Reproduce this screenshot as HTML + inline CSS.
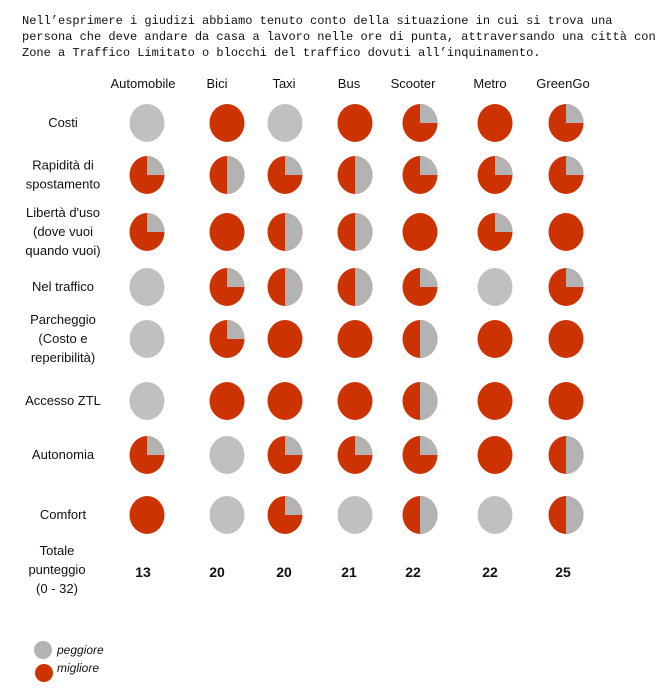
<!DOCTYPE html>
<html><head><meta charset="utf-8">
<style>
body{margin:0;background:#fff;width:663px;height:691px;overflow:hidden;}
svg{display:block}
.intro{font-family:"Liberation Mono",monospace;font-size:12px;fill:#111}
.hdr{font-family:"Liberation Sans",sans-serif;font-size:13px;fill:#111}
.lbl{font-family:"Liberation Sans",sans-serif;font-size:13px;fill:#111}
.tot{font-family:"Liberation Sans",sans-serif;font-size:14px;font-weight:bold;fill:#111}
.leg{font-family:"Liberation Sans",sans-serif;font-size:12px;font-style:italic;fill:#111}
</style></head>
<body>
<svg id="chart" width="663" height="691">
<text class="intro">
<tspan x="22" y="24">Nell’esprimere i giudizi abbiamo tenuto conto della situazione in cui si trova una</tspan>
<tspan x="22" y="40">persona che deve andare da casa a lavoro nelle ore di punta, attraversando una città con</tspan>
<tspan x="22" y="56">Zone a Traffico Limitato o blocchi del traffico dovuti all’inquinamento.</tspan>
</text>
<g>
<ellipse cx="43" cy="650" rx="9" ry="9" fill="#b3b3b3"></ellipse>
<text class="leg" x="57" y="654">peggiore</text>
<ellipse cx="44" cy="673" rx="9" ry="9" fill="#cc3300"></ellipse>
<text class="leg" x="57" y="672">migliore</text>
</g>
</svg>
<script>
const categories = ["Automobile","Bici","Taxi","Bus","Scooter","Metro","GreenGo"];
const criteria = [["Costi"],["Rapidità di","spostamento"],["Libertà d'uso","(dove vuoi","quando vuoi)"],["Nel traffico"],["Parcheggio","(Costo e","reperibilità)"],["Accesso ZTL"],["Autonomia"],["Comfort"]];
// quarters (0-4) rated "migliore" per criterion, per category
const costi      = [0,4,0,4,3,4,3];
const rapidita   = [3,2,3,2,3,3,3];
const liberta    = [3,4,2,2,4,3,4];
const traffico   = [0,3,2,2,3,0,3];
const parcheggio = [0,3,4,4,2,4,4];
const ztl        = [0,4,4,4,2,4,4];
const autonomia  = [3,0,3,3,3,4,2];
const comfort    = [4,0,3,0,2,0,2];
const totals     = [13,20,20,21,22,22,25];
const totalLabel = ["Totale","punteggio","(0 - 32)"];
const series = [costi,rapidita,liberta,traffico,parcheggio,ztl,autonomia,comfort];

const NS="http://www.w3.org/2000/svg";
const svg=document.getElementById('chart');
const colX=[147,227,285,355,420,495,566];
const hdrX=[143,217,284,349,413,490,563];
const rowY=[123,175,232,287,339,401,455,515];
const totY=577;
const RX=17.5, RY=19;
function xPos(i){return colX[i];}
function yPos(j){return rowY[j];}
function mk(tag,attrs){const e=document.createElementNS(NS,tag);for(const k in attrs)e.setAttribute(k,attrs[k]);svg.appendChild(e);return e;}

categories.forEach((c,i)=>{
  const t=mk('text',{x:hdrX[i],y:88,'text-anchor':'middle',class:'hdr'});
  
  
  if(c==='GreenGo')t.setAttribute('fill','#008000');
  t.textContent=c;
});
criteria.forEach((lines,j)=>{
  const t=mk('text',{class:'lbl','text-anchor':'middle'});
  
  
  const y0=yPos(j)+4-(lines.length-1)*9.5;
  lines.forEach((l,k)=>{const s=document.createElementNS(NS,'tspan');s.setAttribute('x',63);s.setAttribute('y',y0+k*19);s.textContent=l;t.appendChild(s);});
});
series.forEach((vals,j)=>{
  vals.forEach((v,i)=>{
    const cx=xPos(i),cy=yPos(j);
    const g=mk('g',{});
    
    
    const base=document.createElementNS(NS,'ellipse');
    base.setAttribute('cx',cx);base.setAttribute('cy',cy);base.setAttribute('rx',RX);base.setAttribute('ry',RY);
    base.setAttribute('fill',v===0?'#c0c0c0':'#cc3300');
    g.appendChild(base);
    const grayFrac=(4-v)/4;
    if(v>0&&grayFrac>0){
      const a=grayFrac*2*Math.PI;
      const ex=cx+RX*Math.sin(a),ey=cy-RY*Math.cos(a);
      const large=grayFrac>0.5?1:0;
      const p=document.createElementNS(NS,'path');
      p.setAttribute('d',`M${cx},${cy} L${cx},${cy-RY} A${RX},${RY} 0 ${large} 1 ${ex},${ey} Z`);
      p.setAttribute('fill','#b3b3b3');
      g.appendChild(p);
    }
  });
});
const tl=mk('text',{class:'lbl','text-anchor':'middle'});


totalLabel.forEach((l,k)=>{const s=document.createElementNS(NS,'tspan');s.setAttribute('x',57);s.setAttribute('y',555+k*19);s.textContent=l;tl.appendChild(s);});
totals.forEach((v,i)=>{
  const t=mk('text',{x:hdrX[i],y:totY,'text-anchor':'middle',class:'tot'});
  
  
  t.textContent=v;
});
</script>
</body></html>
